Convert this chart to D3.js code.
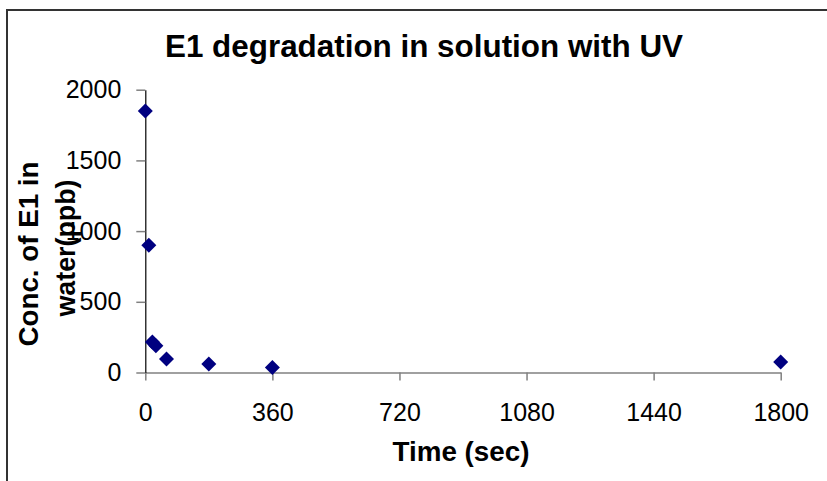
<!DOCTYPE html>
<html>
<head>
<meta charset="utf-8">
<script src="https://cdn.jsdelivr.net/npm/d3@7"></script>
<style>
  html, body { margin: 0; padding: 0; background: #fff; }
  svg { display: block; font-family: "Liberation Sans", Arial, sans-serif; }
</style>
</head>
<body>
<svg id="chart" width="827" height="481"></svg>
<script>
// ---- data ----
const timeSec = [0, 10, 20, 30, 60, 180, 360, 1800];
const concPpb = [1850, 900, 215, 190, 95, 60, 35, 75];
const xTicks = [0, 360, 720, 1080, 1440, 1800];
const yTicks = [0, 500, 1000, 1500, 2000];
const titleText = "E1 degradation in solution with UV";
const xTitle = "Time (sec)";
const yTitleLines = ["Conc. of E1 in", "water(ppb)"];

const svg = d3.select("#chart");

// outer frame (only top/left edges visible)
svg.append("rect")
  .attr("x", 7).attr("y", 10).attr("width", 900).attr("height", 600)
  .attr("fill", "#fff").attr("stroke", "#333").attr("stroke-width", 2);

const x = d3.scaleLinear().domain([0, 1800]).range([145.3, 780.7]);
const y = d3.scaleLinear().domain([0, 2000]).range([372.5, 89.7]);

// title
svg.append("text")
  .attr("x", 424).attr("y", 57)
  .attr("text-anchor", "middle")
  .attr("font-size", 31).attr("font-weight", "bold")
  .attr("textLength", 518).attr("lengthAdjust", "spacingAndGlyphs")
  .text(titleText);

// x axis
const gx = svg.append("g").attr("transform", `translate(0,${y(0)})`)
  .call(d3.axisBottom(x).tickValues(xTicks).tickSize(8).tickSizeOuter(0).tickPadding(23).tickFormat(d3.format("d")));
gx.select(".domain").attr("stroke", "#808080").attr("stroke-width", 1.5);
gx.selectAll(".tick line").attr("stroke", "#808080").attr("stroke-width", 1.5);
gx.selectAll(".tick text").attr("font-size", 25).attr("font-family", "Liberation Sans, Arial, sans-serif").attr("fill", "#000");

// y axis
const gy = svg.append("g").attr("transform", `translate(${x(0)},0)`)
  .call(d3.axisLeft(y).tickValues(yTicks).tickSize(9).tickSizeOuter(0).tickPadding(15).tickFormat(d3.format("d")));
gy.select(".domain").attr("stroke", "#000").attr("stroke-width", 1.2);
gy.selectAll(".tick line").attr("stroke", "#808080").attr("stroke-width", 1.5);
gy.selectAll(".tick text").attr("font-size", 25).attr("font-family", "Liberation Sans, Arial, sans-serif").attr("fill", "#000");

// x title
svg.append("text")
  .attr("x", 461).attr("y", 461)
  .attr("text-anchor", "middle")
  .attr("font-size", 27).attr("font-weight", "bold")
  .attr("textLength", 137).attr("lengthAdjust", "spacingAndGlyphs")
  .text(xTitle);

// y title (two rotated lines)
const yPos = [{bx: 38, cy: 254, len: 185}, {bx: 75, cy: 248, len: 137}];
yTitleLines.forEach((t, i) => {
  svg.append("text")
    .attr("transform", `translate(${yPos[i].bx},${yPos[i].cy}) rotate(-90)`)
    .attr("text-anchor", "middle")
    .attr("font-size", 27).attr("font-weight", "bold")
    .attr("textLength", yPos[i].len).attr("lengthAdjust", "spacingAndGlyphs")
    .text(t);
});

// markers
const diamond = d3.symbol().type(d3.symbolSquare).size(112.5);
const pts = timeSec.map((t, i) => ({t, c: concPpb[i]}));
svg.append("g").selectAll("path").data(pts).join("path")
  .attr("d", diamond)
  .attr("transform", d => `translate(${x(d.t)},${y(d.c)}) rotate(45)`)
  .attr("fill", "#000080");
</script>
</body>
</html>
